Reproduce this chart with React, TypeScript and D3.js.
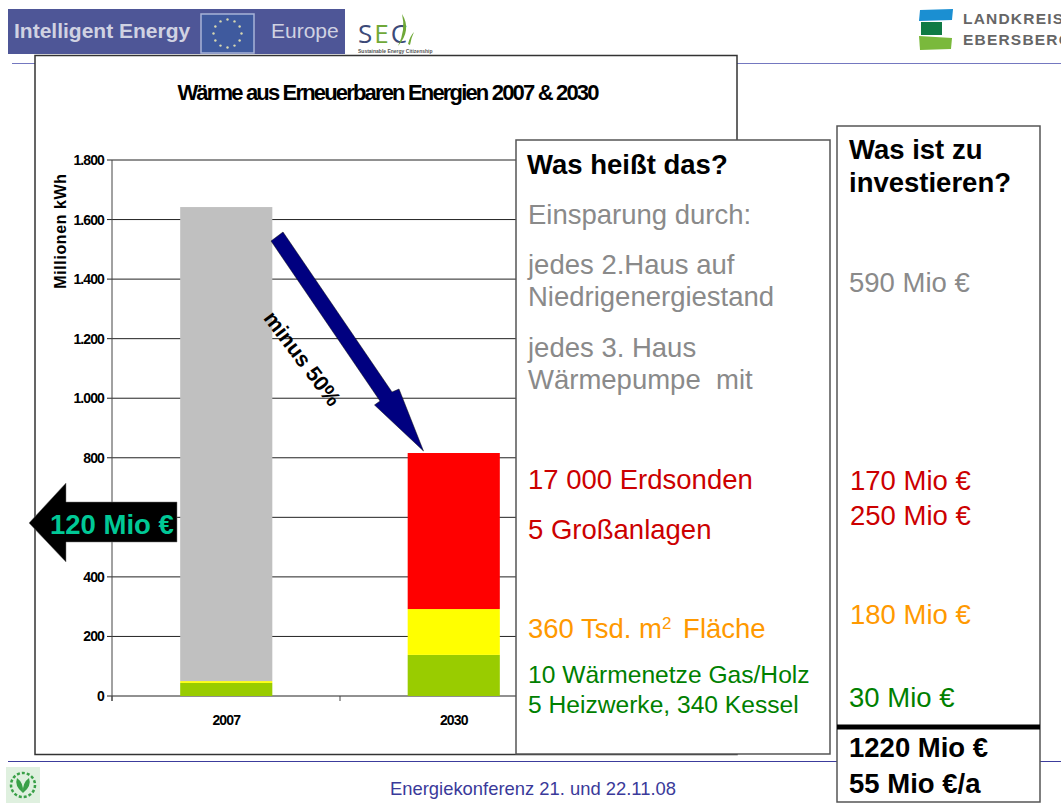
import React from "react";
import * as d3 from "d3";

const categories = ["2007", "2030"];
const seriesGreen = [44, 138];
const seriesYellow = [6, 154];
const seriesRed = [0, 524];
const seriesGray = [1592, 0];
const seriesNames = ["green", "yellow", "red", "gray"];
const seriesColors = ["#99cc00", "#ffff00", "#ff0000", "#c0c0c0"];
const yTicks = [0, 200, 400, 600, 800, 1000, 1200, 1400, 1600, 1800];
const fmt = (v: number) => (v >= 1000 ? `${Math.floor(v / 1000)}.${String(v % 1000).padStart(3, "0")}` : `${v}`);

const SANS = "'Liberation Sans', Arial, sans-serif";

const y = d3.scaleLinear().domain([0, 1800]).range([696, 160]);
const x = d3.scaleBand().domain(categories).range([112.5, 567.5]).paddingInner(0.595).paddingOuter(0.2975);

const rows = categories.map((c, i) => ({
  category: c,
  green: seriesGreen[i],
  yellow: seriesYellow[i],
  red: seriesRed[i],
  gray: seriesGray[i],
}));
const stacked = d3.stack<any>().keys(seriesNames)(rows);
const colorOf = d3.scaleOrdinal<string, string>().domain(seriesNames).range(seriesColors);

const starAngles = d3.range(12).map((i) => (i * Math.PI) / 6);

function T({ x, y, size = 27.5, fill = "#000", weight = "normal", ls = 0, anchor = "start", children, transform }: any) {
  return (
    <text x={x} y={y} fontFamily={SANS} fontSize={size} fill={fill} fontWeight={weight} letterSpacing={ls} textAnchor={anchor} transform={transform} xmlSpace="preserve">
      {children}
    </text>
  );
}

export default function App() {
  const GRAY = "#8a8a8a", RED = "#cc0000", ORANGE = "#ff9900", GREEN = "#008000";
  return (
    <svg width={1061} height={803} style={{ position: "absolute", left: 0, top: 0, display: "block", background: "#fff" }}>
      {/* header rule / footer rule */}
      <line x1={12} x2={1061} y1={63.5} y2={63.5} stroke="#7478c0" strokeWidth={1} />
      <line x1={8} x2={1061} y1={761.5} y2={761.5} stroke="#3c3c9c" strokeWidth={1} />

      {/* Intelligent Energy Europe logo */}
      <rect x={8} y={9} width={337} height={45} fill="#4e5697" />
      <text x={14} y={38} fontFamily={SANS} fontWeight="bold" fontSize={21} fill="#d0d2e2">Intelligent Energy</text>
      <rect x={201} y={14} width={53} height={39} fill="#3f5a9e" stroke="#a8b4d8" strokeWidth={1.5} />
      {starAngles.map((a, i) => (
        <circle key={i} cx={227.5 + 14 * Math.cos(a)} cy={33.5 + 14 * Math.sin(a)} r={1.2} fill="#d8d8b0" />
      ))}
      <text x={271} y={38} fontFamily={SANS} fontSize={21} fill="#d0d2e2">Europe</text>

      {/* SEC logo */}
      <text x={358} y={43} fontFamily="'Open Sans', sans-serif" fontSize={26} letterSpacing={2} fill="#3c4a78">
        S<tspan fill="#6fa838">E</tspan>C
      </text>
      <path d="M402,14 Q412,30 398,46 Q406,30 402,14Z" fill="#6fa838" />
      <path d="M408,44 Q410,36 414,32 Q411,38 410,45Z" fill="#6fa838" />
      <text x={358} y={52.5} fontFamily={SANS} fontSize={5} fill="#555" fontWeight="bold">Sustainable Energy Citizenship</text>

      {/* Landkreis logo */}
      <path d="M920,10 L953,9 L952,20 L919,21Z" fill="#1b8fd2" />
      <rect x={921} y={22} width={21} height={13} fill="#0f7a45" />
      <path d="M919,36 L952,38 L951,49 L920,50Z" fill="#7ab93c" />
      <text x={963} y={24} fontFamily={SANS} fontSize={15.5} fontWeight="bold" letterSpacing={1.2} fill="#666">LANDKREIS</text>
      <text x={963} y={45} fontFamily={SANS} fontSize={15.5} fontWeight="bold" letterSpacing={1.2} fill="#666">EBERSBERG</text>

      {/* Chart box */}
      <rect x={35} y={55.5} width={702} height={699} fill="#fff" stroke="#333" strokeWidth={1.5} />
      <T x={387.5} y={100} size={22} weight="bold" ls={-1.83} anchor="middle">Wärme aus Erneuerbaren Energien 2007 &amp; 2030</T>

      {/* gridlines + ticks */}
      {yTicks.map((t) => (
        <g key={t}>
          <line x1={107} x2={567} y1={y(t)} y2={y(t)} stroke="#222" strokeWidth={1} />
          <T x={104} y={y(t) + 5} size={14} weight="bold" ls={-0.9} anchor="end">{fmt(t)}</T>
        </g>
      ))}
      <line x1={112} x2={112} y1={160} y2={701} stroke="#444" strokeWidth={1} />
      {[112, 340, 567].map((px) => (
        <line key={px} x1={px} x2={px} y1={696} y2={701} stroke="#444" />
      ))}
      <T x={0} y={0} size={16} weight="bold" ls={0.6} anchor="middle" transform="translate(66,231) rotate(-90)">Millionen kWh</T>

      {/* stacked bars */}
      {stacked.map((s) =>
        s.map((d: any, i: number) =>
          d[1] > d[0] ? (
            <rect key={s.key + i} x={x(categories[i])} width={x.bandwidth()} y={y(d[1])} height={y(d[0]) - y(d[1])} fill={colorOf(s.key)} />
          ) : null
        )
      )}
      {categories.map((c) => (
        <T key={c} x={x(c)! + x.bandwidth() / 2} y={725} size={14} weight="bold" ls={-0.9} anchor="middle">{c}</T>
      ))}

      {/* minus 50% arrow */}
      <polygon points="271,241 283,232 392,392 399,389 423.5,451 374.5,405 380,401" fill="#000080" stroke="#111" strokeWidth={0.5} />
      <T x={0} y={0} size={21.5} weight="bold" anchor="middle" transform="translate(296.5,363) rotate(53)">minus 50%</T>

      {/* 120 Mio arrow */}
      <polygon points="29,523 66,483 66,502 177,502 177,542 66,542 66,562" fill="#000" stroke="#777" strokeWidth={0.5} />
      <T x={50} y={534} weight="bold" fill="#00c896">120 Mio €</T>

      {/* Was heisst das box */}
      <rect x={516} y={140} width={314} height={614} fill="#fff" stroke="#555" strokeWidth={1.5} />
      <T x={527} y={174} weight="bold">Was heißt das?</T>
      <T x={528} y={224} fill={GRAY}>Einsparung durch:</T>
      <T x={528} y={274} fill={GRAY}>jedes 2.Haus auf</T>
      <T x={528} y={306} fill={GRAY}>Niedrigenergiestand</T>
      <T x={528} y={357} fill={GRAY}>jedes 3. Haus</T>
      <T x={528} y={389} fill={GRAY}>Wärmepumpe  mit</T>
      <T x={528} y={489} fill={RED}>17 000 Erdsonden</T>
      <T x={528} y={539} fill={RED}>5 Großanlagen</T>
      <T x={528} y={638} fill={ORANGE}>360 Tsd. m<tspan fontSize={17} dy={-9}>2</tspan><tspan dy={9} dx={4}> Fläche</tspan></T>
      <T x={528} y={683} size={24.6} fill={GREEN}>10 Wärmenetze Gas/Holz</T>
      <T x={528} y={713} size={24.6} fill={GREEN}>5 Heizwerke, 340 Kessel</T>

      {/* Was ist zu investieren box */}
      <rect x={837} y={126} width={203} height={676} fill="#fff" stroke="#555" strokeWidth={1.5} />
      <T x={849} y={159} weight="bold">Was ist zu</T>
      <T x={849} y={192} weight="bold">investieren?</T>
      <T x={849} y={292} fill={GRAY}>590 Mio €</T>
      <T x={850} y={490} fill={RED}>170 Mio €</T>
      <T x={850} y={525} fill={RED}>250 Mio €</T>
      <T x={850} y={624} fill={ORANGE}>180 Mio €</T>
      <T x={849} y={707} fill={GREEN}>30 Mio €</T>
      <line x1={837} x2={1040} y1={727} y2={727} stroke="#000" strokeWidth={5} />
      <T x={849} y={757} weight="bold">1220 Mio €</T>
      <T x={849} y={793} weight="bold">55 Mio €/a</T>

      {/* footer */}
      <T x={390} y={795} size={18.4} fill="#3a3a9a">Energiekonferenz 21. und 22.11.08</T>
      <rect x={6} y={767} width={34} height={36} fill="#dff0df" />
      <circle cx={23} cy={785} r={12} fill="none" stroke="#3aa048" strokeWidth={2.5} strokeDasharray="3 2" />
      <path d="M23,793 Q14,786 17,778 Q24,783 23,793 Q32,786 29,778 Q22,783 23,793Z" fill="#3aa048" />
    </svg>
  );
}
